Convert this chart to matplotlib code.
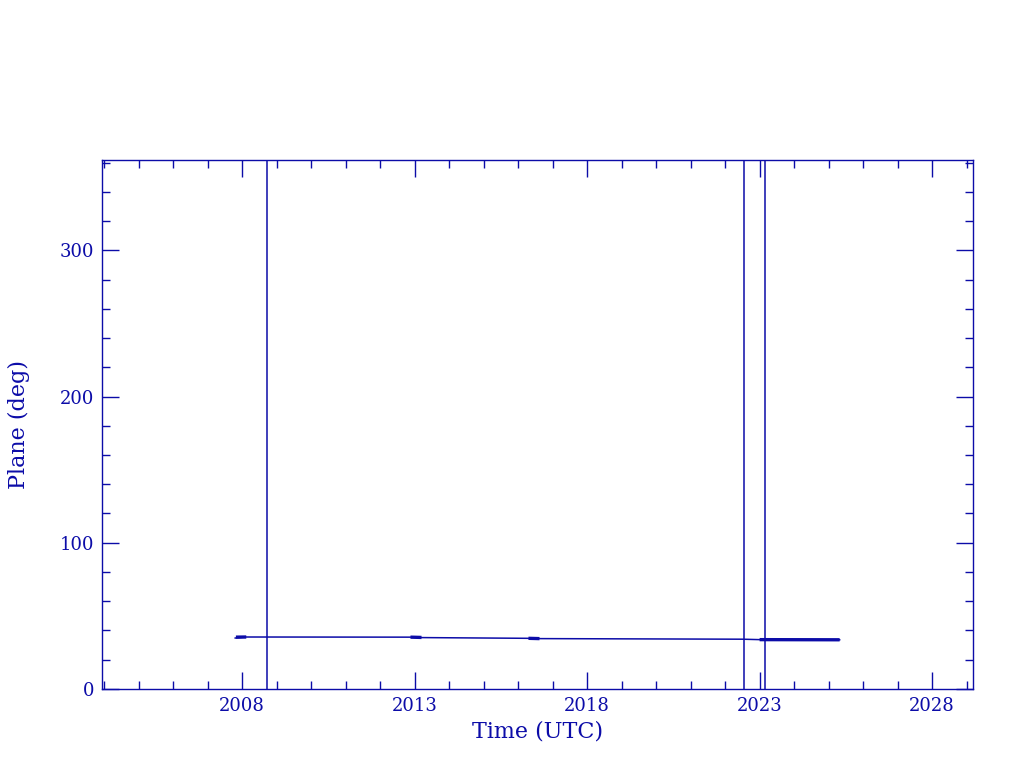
import matplotlib
matplotlib.use("Agg")
import matplotlib.pyplot as plt
from matplotlib.ticker import MultipleLocator

# -- Data --
# orbital plane angle over time (decimal years), sparse trace
times = [2007.80, 2008.10, 2012.90, 2013.20, 2016.30, 2016.60, 2022.50, 2023.00, 2025.32]
plane = [34.8, 35.5, 35.4, 35.1, 34.6, 34.4, 34.0, 33.7, 33.6]
# densely sampled stretches (overplotted points -> heavier trace)
dense_spans = [(2007.82, 2008.12), (2012.88, 2013.20), (2016.30, 2016.62), (2023.00, 2025.32)]
dense_vals = [(35.4, 35.5), (35.4, 35.2), (34.6, 34.4), (33.7, 33.6)]
# angle wraps (full-height jumps in the trace)
wrap_times = [2008.72, 2022.55, 2023.16]

xlim = (2003.95, 2029.18)
ylim = (0, 362)

blue = "#0c0ca8"
plt.rcParams["font.family"] = ["DejaVu Serif"]

fig = plt.figure(figsize=(10.24, 7.68), dpi=100)
ax = fig.add_axes([0.1, 0.103, 0.85, 0.689])

ax.plot(times, plane, color=blue, lw=1.1)
for span, vals in zip(dense_spans, dense_vals):
    ax.plot(span, vals, color=blue, lw=2.4, solid_capstyle="butt")
ax.vlines(wrap_times, ylim[0] - 10, ylim[1] + 10, color=blue, lw=1.1)

ax.set_xlim(*xlim)
ax.set_ylim(*ylim)

ax.xaxis.set_major_locator(MultipleLocator(5, offset=3))
ax.xaxis.set_minor_locator(MultipleLocator(1))
ax.yaxis.set_major_locator(MultipleLocator(100))
ax.yaxis.set_minor_locator(MultipleLocator(20))
ax.xaxis.set_major_formatter(plt.FuncFormatter(lambda v, p: f"{v:.0f}"))

ax.tick_params(which="both", direction="in", top=True, right=True,
               color=blue, labelcolor=blue, labelsize=13, width=1.0)
ax.tick_params(which="major", length=12, pad=6)
ax.tick_params(which="minor", length=6)
for s in ax.spines.values():
    s.set_color(blue)
    s.set_linewidth(1.0)

ax.set_xlabel("Time (UTC)", color=blue, fontsize=16, labelpad=4)
ax.set_ylabel("Plane (deg)", color=blue, fontsize=16, labelpad=21)

fig.savefig("out.png", dpi=100)
